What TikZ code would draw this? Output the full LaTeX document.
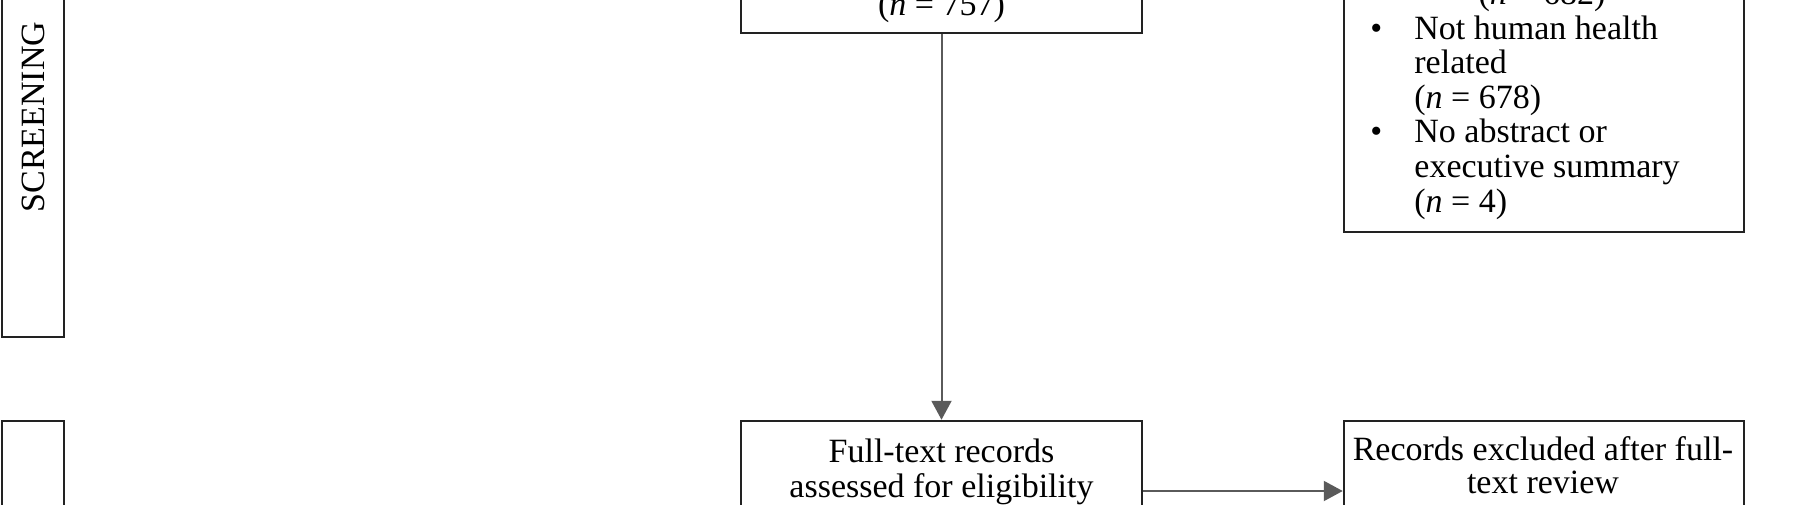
\documentclass[tikz,border=0pt]{standalone}
\usepackage{fontspec}
\setmainfont{Liberation Serif}
\usetikzlibrary{arrows.meta}
\definecolor{arrowgray}{HTML}{5A5A5A}
\definecolor{boxline}{HTML}{222222}
\tikzset{
  box/.style={draw=boxline, line width=1.25pt, rectangle, inner sep=0pt, fill=none},
  txt/.style={inner sep=0pt, font=\fontsize{17}{17.3}\selectfont},
  arr/.style={draw=arrowgray, line width=1pt, -{Triangle[length=9.5pt,width=10pt]}}
}
\begin{document}
\begin{tikzpicture}[x=0.5pt, y=-0.5pt]
\useasboundingbox (0,0) rectangle (1805,504);
\clip (0,0) rectangle (1805,504);
% phase boxes on the left
\node[box, txt, rotate=90, minimum width=220pt, minimum height=31pt] (screen) at (33,117) {SCREENING};
\node[box, minimum width=31pt, minimum height=100pt] (elig) at (33,521) {};
% centre column
\node[box, minimum width=200.5pt, minimum height=60pt] (c1) at (941.5,-27) {};
\node[txt, anchor=base] (c1t) at (941.5,15) {(\textit{n} = 757)};
\node[box, minimum width=200.5pt, minimum height=70pt] (c2) at (941.5,491) {};
\node[txt, anchor=base] (c2t) at (941.5,462) {\renewcommand\arraystretch{1.03}\begin{tabular}[t]{@{}c@{}}Full-text records\\assessed for eligibility\end{tabular}};
% right column
\node[box, minimum width=200pt, minimum height=176pt] (r1) at (1544,56) {};
\node[txt, anchor=base] (r1a) at (1542,4) {(\textit{n} = 682)};
\node[txt, anchor=base west] (r1b) at (1370,39) {\begin{tabular}[t]{@{}p{22pt}@{}l@{}}\textbullet & Not human health\\ & related\\ & (\textit{n} = 678)\\ \textbullet & No abstract or\\ & executive summary\\ & (\textit{n} = 4)\end{tabular}};
\node[box, minimum width=200pt, minimum height=70pt] (r2) at (1544,491) {};
\node[txt, anchor=base] (r2t) at (1543,460) {\renewcommand\arraystretch{0.96}\begin{tabular}[t]{@{}c@{}}Records excluded after full-\\text review\end{tabular}};
% connectors
\draw[arr] (c1.south) -- (c2.north);
\draw[arr] (c2.east) -- (r2.west);
\end{tikzpicture}
\end{document}
